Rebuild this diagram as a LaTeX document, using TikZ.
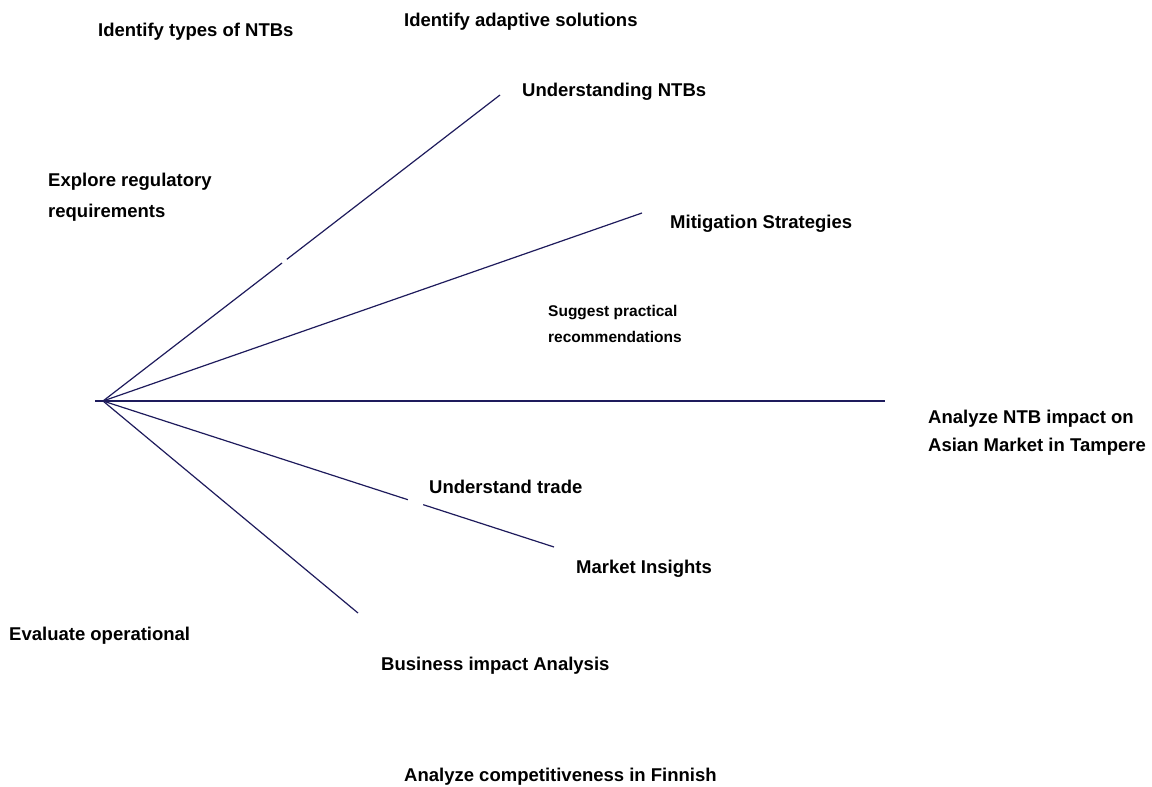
\documentclass[tikz,border=0pt]{standalone}
\usepackage{fontspec}
\setmainfont{Liberation Sans}
\usetikzlibrary{calc}
\definecolor{spoke}{RGB}{30,27,92}
\tikzset{
  lbl/.style={anchor=north west, inner sep=0pt, align=left, font=\fontsize{18.5}{28}\selectfont\bfseries},
  lblsmall/.style={lbl, font=\fontsize{15.5}{26}\selectfont\bfseries},
  spk/.style={draw=spoke, line width=1.2pt}
}
\begin{document}
\begin{tikzpicture}[x=1pt, y=-1pt]
  \useasboundingbox (0,0) rectangle (1152,787);
  \coordinate (hub) at (103,401);
  \coordinate (tipntb) at (500,95);
  \coordinate (tipmit) at (642,213);
  \coordinate (tipana) at (885,401);
  \coordinate (tipmkt) at (554,547);
  \coordinate (tipbus) at (358,613);
  \coordinate (tail) at (95,401);
  \draw[spk] (hub) -- ($(hub)!0.451!(tipntb)$) ($(hub)!0.463!(tipntb)$) -- (tipntb);
  \draw[spk] (hub) -- (tipmit);
  \draw[spk] (tail) -- (tipana);
  \draw[spk] (hub) -- ($(hub)!0.676!(tipmkt)$) ($(hub)!0.710!(tipmkt)$) -- (tipmkt);
  \draw[spk] (hub) -- (tipbus);
  \node[lbl] (adapt) at (404,13) {Identify adaptive solutions};
  \node[lbl] (types) at (98,23) {Identify types of NTBs};
  \node[lbl] (undntb) at (522,83) {Understanding NTBs};
  \node[lbl] (explore) at (48,173) {Explore regulatory\\[3pt]requirements};
  \node[lbl] (mitig) at (670,215) {Mitigation Strategies};
  \node[lblsmall] (suggest) at (548,305) {Suggest practical\\recommendations};
  \node[lbl] (impact) at (928,410) {Analyze NTB impact on\\Asian Market in Tampere};
  \node[lbl] (trade) at (429,480) {Understand trade};
  \node[lbl] (market) at (576,560) {Market Insights};
  \node[lbl] (evalop) at (9,627) {Evaluate operational};
  \node[lbl] (business) at (381,657) {Business impact Analysis};
  \node[lbl] (compet) at (404,768) {Analyze competitiveness in Finnish};
\end{tikzpicture}
\end{document}
